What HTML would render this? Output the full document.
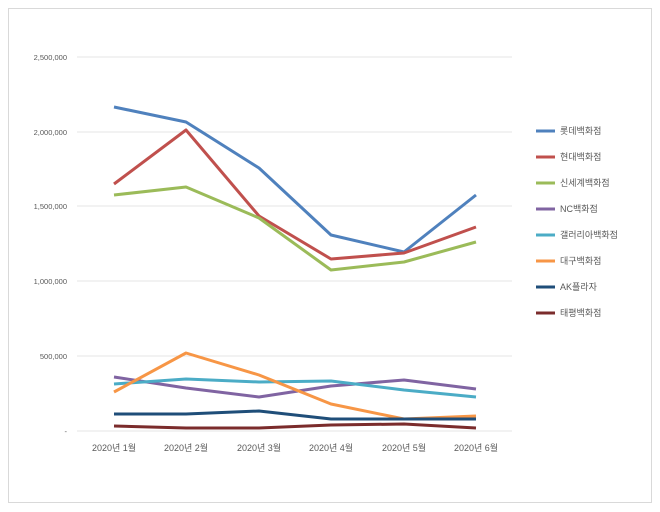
<!DOCTYPE html>
<html><head><meta charset="utf-8"><style>
body{margin:0;background:#fff;}
svg{display:block;font-family:"Liberation Sans","Noto Sans CJK KR",sans-serif;}
</style></head><body>
<svg width="660" height="512" viewBox="0 0 660 512">
<rect x="8.5" y="8.5" width="643" height="494" fill="#fff" stroke="#d9d9d9"/>
<g stroke="#e6e6e6" stroke-width="1">
<line x1="77" y1="57" x2="512" y2="57"/><line x1="77" y1="132" x2="512" y2="132"/>
<line x1="77" y1="206" x2="512" y2="206"/><line x1="77" y1="281" x2="512" y2="281"/>
<line x1="77" y1="356" x2="512" y2="356"/><line x1="77" y1="431" x2="512" y2="431"/>
</g>
<g font-size="7.5" fill="#595959" text-anchor="end">
<text x="67" y="60">2,500,000</text><text x="67" y="135">2,000,000</text>
<text x="67" y="209">1,500,000</text><text x="67" y="284">1,000,000</text>
<text x="67" y="359">500,000</text><text x="67" y="434">-</text>
</g>
<g font-size="9" fill="#595959" text-anchor="middle">
<text x="114" y="451">2020년 1월</text><text x="186" y="451">2020년 2월</text>
<text x="259" y="451">2020년 3월</text><text x="331" y="451">2020년 4월</text>
<text x="404" y="451">2020년 5월</text><text x="476" y="451">2020년 6월</text>
</g>
<g fill="none" stroke-width="3" stroke-linejoin="round">
<polyline stroke="#4f81bd" points="114,107 186,122 259,168 331,235 404,252 476,195"/>
<polyline stroke="#c0504d" points="114,184 186,130 259,216 331,259 404,253 476,227"/>
<polyline stroke="#9bbb59" points="114,195 186,187 259,218 331,270 404,262 476,242"/>
<polyline stroke="#8064a2" points="114,377 186,388 259,397 331,386 404,380 476,389"/>
<polyline stroke="#4bacc6" points="114,384 186,379 259,382 331,381 404,390 476,397"/>
<polyline stroke="#f79646" points="114,392 186,353 259,375 331,404 404,419 476,416"/>
<polyline stroke="#1f4e79" points="114,414 186,414 259,411 331,419 404,419 476,419"/>
<polyline stroke="#7b2c2c" points="114,426 186,428 259,428 331,425 404,424 476,428"/>
</g>
<g stroke-width="3">
<line x1="536" y1="131" x2="555" y2="131" stroke="#4f81bd"/>
<line x1="536" y1="157" x2="555" y2="157" stroke="#c0504d"/>
<line x1="536" y1="183" x2="555" y2="183" stroke="#9bbb59"/>
<line x1="536" y1="209" x2="555" y2="209" stroke="#8064a2"/>
<line x1="536" y1="235" x2="555" y2="235" stroke="#4bacc6"/>
<line x1="536" y1="261" x2="555" y2="261" stroke="#f79646"/>
<line x1="536" y1="287" x2="555" y2="287" stroke="#1f4e79"/>
<line x1="536" y1="313" x2="555" y2="313" stroke="#7b2c2c"/>
</g>
<g font-size="9" fill="#595959">
<text x="560" y="134">롯데백화점</text><text x="560" y="160">현대백화점</text>
<text x="560" y="186">신세계백화점</text><text x="560" y="212">NC백화점</text>
<text x="560" y="238">갤러리아백화점</text><text x="560" y="264">대구백화점</text>
<text x="560" y="290">AK플라자</text><text x="560" y="316">태평백화점</text>
</g>
</svg>
</body></html>
